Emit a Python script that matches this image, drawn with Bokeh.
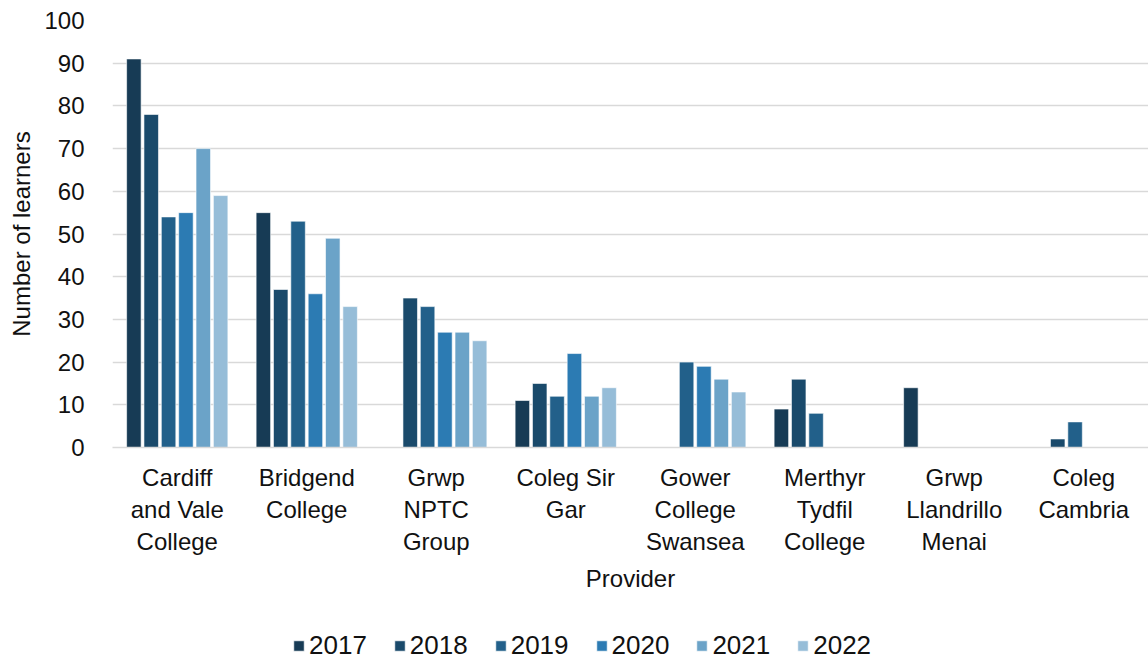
from bokeh.plotting import figure
from bokeh.layouts import column
from bokeh.models import ColumnDataSource, FactorRange, Range1d, Legend, LegendItem, FixedTicker
from bokeh.transform import dodge
from bokeh.embed import file_html
from bokeh.resources import INLINE

providers = ["Cardiff\nand Vale\nCollege", "Bridgend\nCollege", "Grwp\nNPTC\nGroup",
             "Coleg Sir\nGar", "Gower\nCollege\nSwansea", "Merthyr\nTydfil\nCollege",
             "Grwp\nLlandrillo\nMenai", "Coleg\nCambria"]
years = ["2017", "2018", "2019", "2020", "2021", "2022"]
# None = no bar shown
v2017 = [91, 55, None, 11, None, 9, 14, None]
v2018 = [78, 37, 35, 15, None, 16, None, 2]
v2019 = [54, 53, 33, 12, 20, 8, None, 6]
v2020 = [55, 36, 27, 22, 19, None, None, None]
v2021 = [70, 49, 27, 12, 16, None, None, None]
v2022 = [59, 33, 25, 14, 13, None, None, None]
series = [v2017, v2018, v2019, v2020, v2021, v2022]
colors = ["#173B55", "#1A4A6B", "#22608A", "#2C7BB3", "#6BA3C8", "#96BDD8"]

FONT = "Liberation Sans"
TXT = "#111111"

p = figure(x_range=FactorRange(*providers, range_padding=0), y_range=Range1d(0, 100),
           width=1148, height=620, output_backend="svg", toolbar_location=None,
           min_border_left=112, min_border_right=0, min_border_top=20, min_border_bottom=173)
p.outline_line_color = None
p.x_range.factor_padding = 0

# small strip below the chart that carries the legend
leg = figure(x_range=p.x_range, y_range=Range1d(0, 1), width=1148, height=41,
             output_backend="svg", toolbar_location=None,
             x_axis_location=None, y_axis_location=None, min_border=0)
leg.outline_line_color = None
leg.xgrid.grid_line_color = None
leg.ygrid.grid_line_color = None

step = 0.134
items = []
for i, (yr, vals, col) in enumerate(zip(years, series, colors)):
    xs = [c for c, v in zip(providers, vals) if v is not None]
    ys = [v for v in vals if v is not None]
    src = ColumnDataSource(data=dict(x=xs, top=ys))
    kw = dict(x=dodge("x", (i - 2.5) * step, range=p.x_range), top="top", width=0.112,
              source=src, fill_color=col, line_color="white", line_width=0.6)
    p.vbar(**kw)
    r = leg.vbar(**kw)
    r.visible = False
    items.append(LegendItem(label=yr, renderers=[r]))

p.yaxis.ticker = FixedTicker(ticks=list(range(0, 101, 10)))
p.ygrid.grid_line_color = "#D9D9D9"
p.ygrid.grid_line_width = 1.5
p.xgrid.grid_line_color = None

for ax in (p.xaxis, p.yaxis):
    ax.major_label_text_font = FONT
    ax.major_label_text_font_size = "24px"
    ax.major_label_text_color = TXT
    ax.axis_label_text_font = FONT
    ax.axis_label_text_font_size = "24px"
    ax.axis_label_text_font_style = "normal"
    ax.axis_label_text_color = TXT
    ax.major_tick_line_color = None
    ax.minor_tick_line_color = None

p.yaxis.axis_line_color = None
p.yaxis.axis_label = "Number of learners"
p.yaxis.major_label_standoff = 22
p.yaxis.axis_label_standoff = 6

p.xaxis.axis_line_color = "#D9D9D9"
p.xaxis.axis_line_width = 1.5
p.xaxis.axis_label = "Provider"
p.xaxis.major_label_standoff = 10
p.xaxis.axis_label_standoff = 7
p.xaxis.major_label_orientation = "horizontal"

legend = Legend(items=items, orientation="horizontal", location=(180, 0),
                glyph_width=13, glyph_height=13, label_standoff=4, spacing=26,
                label_text_font=FONT, label_text_font_size="26px", label_text_color=TXT,
                border_line_color=None, background_fill_alpha=0, padding=0, margin=0)
leg.add_layout(legend, "center")

open("out.html", "w").write(file_html(column(p, leg, spacing=0), INLINE))
